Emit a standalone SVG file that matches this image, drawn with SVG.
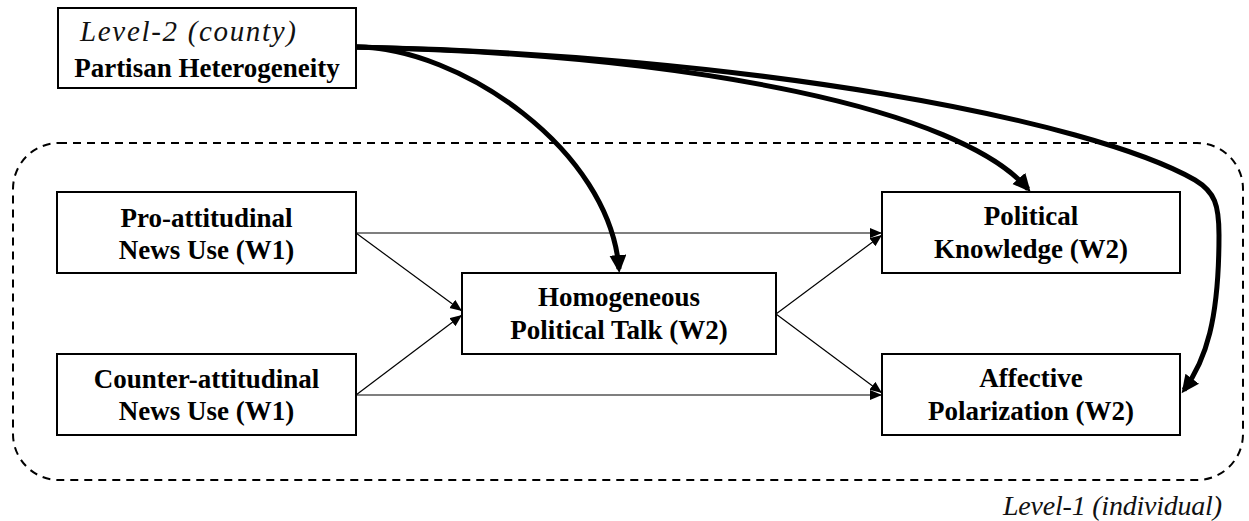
<svg xmlns="http://www.w3.org/2000/svg" width="1249" height="521" viewBox="0 0 1249 521">
<defs>
<style>
.box{fill:#fff;stroke:#000;stroke-width:2}
.b{font-family:"Liberation Serif","Times New Roman",serif;font-weight:bold;font-size:27px;text-anchor:middle;fill:#000}
.i{font-family:"Liberation Serif","Times New Roman",serif;font-style:italic;font-size:28px;fill:#111}
.thin{fill:none;stroke:#000;stroke-width:1.2;marker-end:url(#ah)}
.thick{fill:none;stroke:#000;stroke-width:5;marker-end:url(#ahb)}
</style>
<marker id="ah" markerUnits="userSpaceOnUse" markerWidth="13" markerHeight="11" refX="12" refY="5" orient="auto" viewBox="0 0 13 11">
<path d="M0,0 L12,5 L0,10 z" fill="#000"/>
</marker>
<marker id="ahb" markerUnits="userSpaceOnUse" markerWidth="19" markerHeight="18" refX="14" refY="8.5" orient="auto" viewBox="0 0 19 18">
<path d="M0,0 L18,8.5 L0,17 z" fill="#000"/>
</marker>
</defs>
<g id="level1-frame">
<rect x="13" y="143" width="1230" height="337" rx="46" ry="46" fill="none" stroke="#000" stroke-width="2" stroke-dasharray="8 6"/>
<text class="i" x="1003" y="515" textLength="219" lengthAdjust="spacing">Level-1 (individual)</text>
</g>
<g id="connectors">
<path class="thin" d="M356,233 L882,233"/>
<path class="thin" d="M356,233 L462,311"/>
<path class="thin" d="M356,395 L462,315"/>
<path class="thin" d="M356,395 L882,395"/>
<path class="thin" d="M776,314 L882,235"/>
<path class="thin" d="M776,314 L882,393"/>
<path class="thick" d="M356,47 C460,47 610,150 619,269"/>
<path class="thick" d="M356,47 C700,55 960,110 1028,189"/>
<path class="thick" d="M356,47 C750,55 1090,120 1195,180 C1215,192 1219,205 1219,235 C1219,320 1206,360 1184,390"/>
</g>
<g id="level2">
<rect class="box" x="58" y="8" width="298" height="80"/>
<text class="i" x="80" y="41" style="font-size:29px" textLength="216" lengthAdjust="spacing">Level-2 (county)</text>
<text class="b" x="207" y="77">Partisan Heterogeneity</text>
</g>
<g id="pro">
<rect class="box" x="57" y="192" width="299" height="81"/>
<text class="b" x="206.5" y="227">Pro-attitudinal</text>
<text class="b" x="206.5" y="259">News Use (W1)</text>
</g>
<g id="counter">
<rect class="box" x="57" y="354" width="299" height="81"/>
<text class="b" x="206.5" y="388">Counter-attitudinal</text>
<text class="b" x="206.5" y="420">News Use (W1)</text>
</g>
<g id="homogeneous">
<rect class="box" x="462" y="273" width="314" height="81"/>
<text class="b" x="619" y="306">Homogeneous</text>
<text class="b" x="619" y="339">Political Talk (W2)</text>
</g>
<g id="knowledge">
<rect class="box" x="882" y="192" width="298" height="81"/>
<text class="b" x="1031" y="225">Political</text>
<text class="b" x="1031" y="258">Knowledge (W2)</text>
</g>
<g id="polarization">
<rect class="box" x="882" y="354" width="298" height="81"/>
<text class="b" x="1031" y="387">Affective</text>
<text class="b" x="1031" y="420">Polarization (W2)</text>
</g>
</svg>
